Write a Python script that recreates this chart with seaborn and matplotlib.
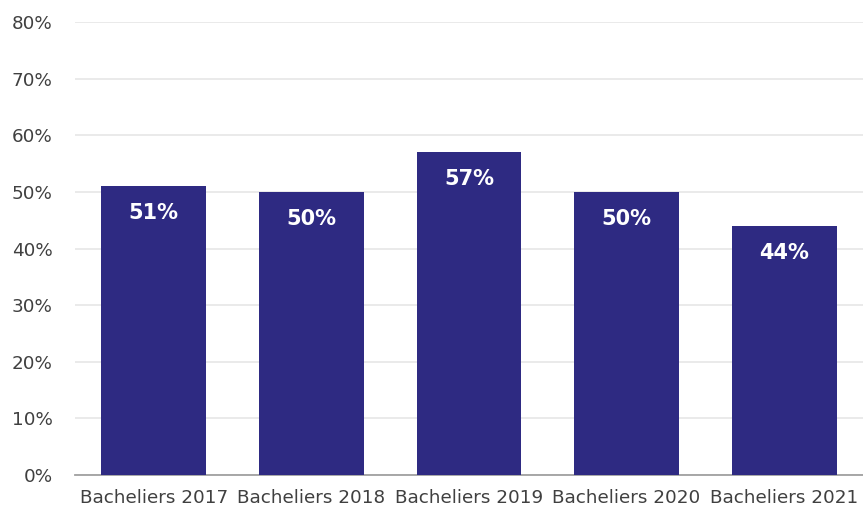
import matplotlib
matplotlib.use("Agg")
import matplotlib.pyplot as plt
import seaborn as sns
import pandas as pd

categories = ["Bacheliers 2017", "Bacheliers 2018", "Bacheliers 2019", "Bacheliers 2020", "Bacheliers 2021"]
values = [51, 50, 57, 50, 44]
bar_labels = ["51%", "50%", "57%", "50%", "44%"]
y_ticks = [0, 10, 20, 30, 40, 50, 60, 70, 80]

sns.set_theme(style="white")
plt.rcParams['font.family'] = ['DejaVu Sans']

df = pd.DataFrame({"cat": categories, "val": values})

fig = plt.figure(figsize=(8.63, 5.14), dpi=100)
ax = fig.add_axes([75/863, 1 - 475/514, (863 - 75)/863, (475 - 22)/514])

sns.barplot(data=df, x="cat", y="val", color="#2E2A82", saturation=1, width=0.665,
            linewidth=0, ax=ax, zorder=3)

ax.set_ylim(0, 80)
ax.set_xlim(-0.5, 4.5)
ax.set_yticks(y_ticks)
ax.set_yticklabels([f"{t}%" for t in y_ticks])
ax.yaxis.grid(True, color="#E6E6E6", linewidth=1.2, zorder=0)
ax.set_axisbelow(True)
ax.set_xlabel("")
ax.set_ylabel("")
ax.tick_params(axis="both", length=0, labelsize=13.2, colors="#404040")
ax.tick_params(axis="y", pad=16)
ax.tick_params(axis="x", pad=10)
for s in ["top", "right", "left"]:
    ax.spines[s].set_visible(False)
ax.spines["bottom"].set_color("#A0A0A0")
ax.spines["bottom"].set_linewidth(1.3)

for i, (v, lab) in enumerate(zip(values, bar_labels)):
    ax.annotate(lab, (i, v), xytext=(0, -27), textcoords="offset pixels",
                ha="center", va="center", color="white", fontweight="bold", fontsize=15)

fig.savefig("out.png", dpi=100)
